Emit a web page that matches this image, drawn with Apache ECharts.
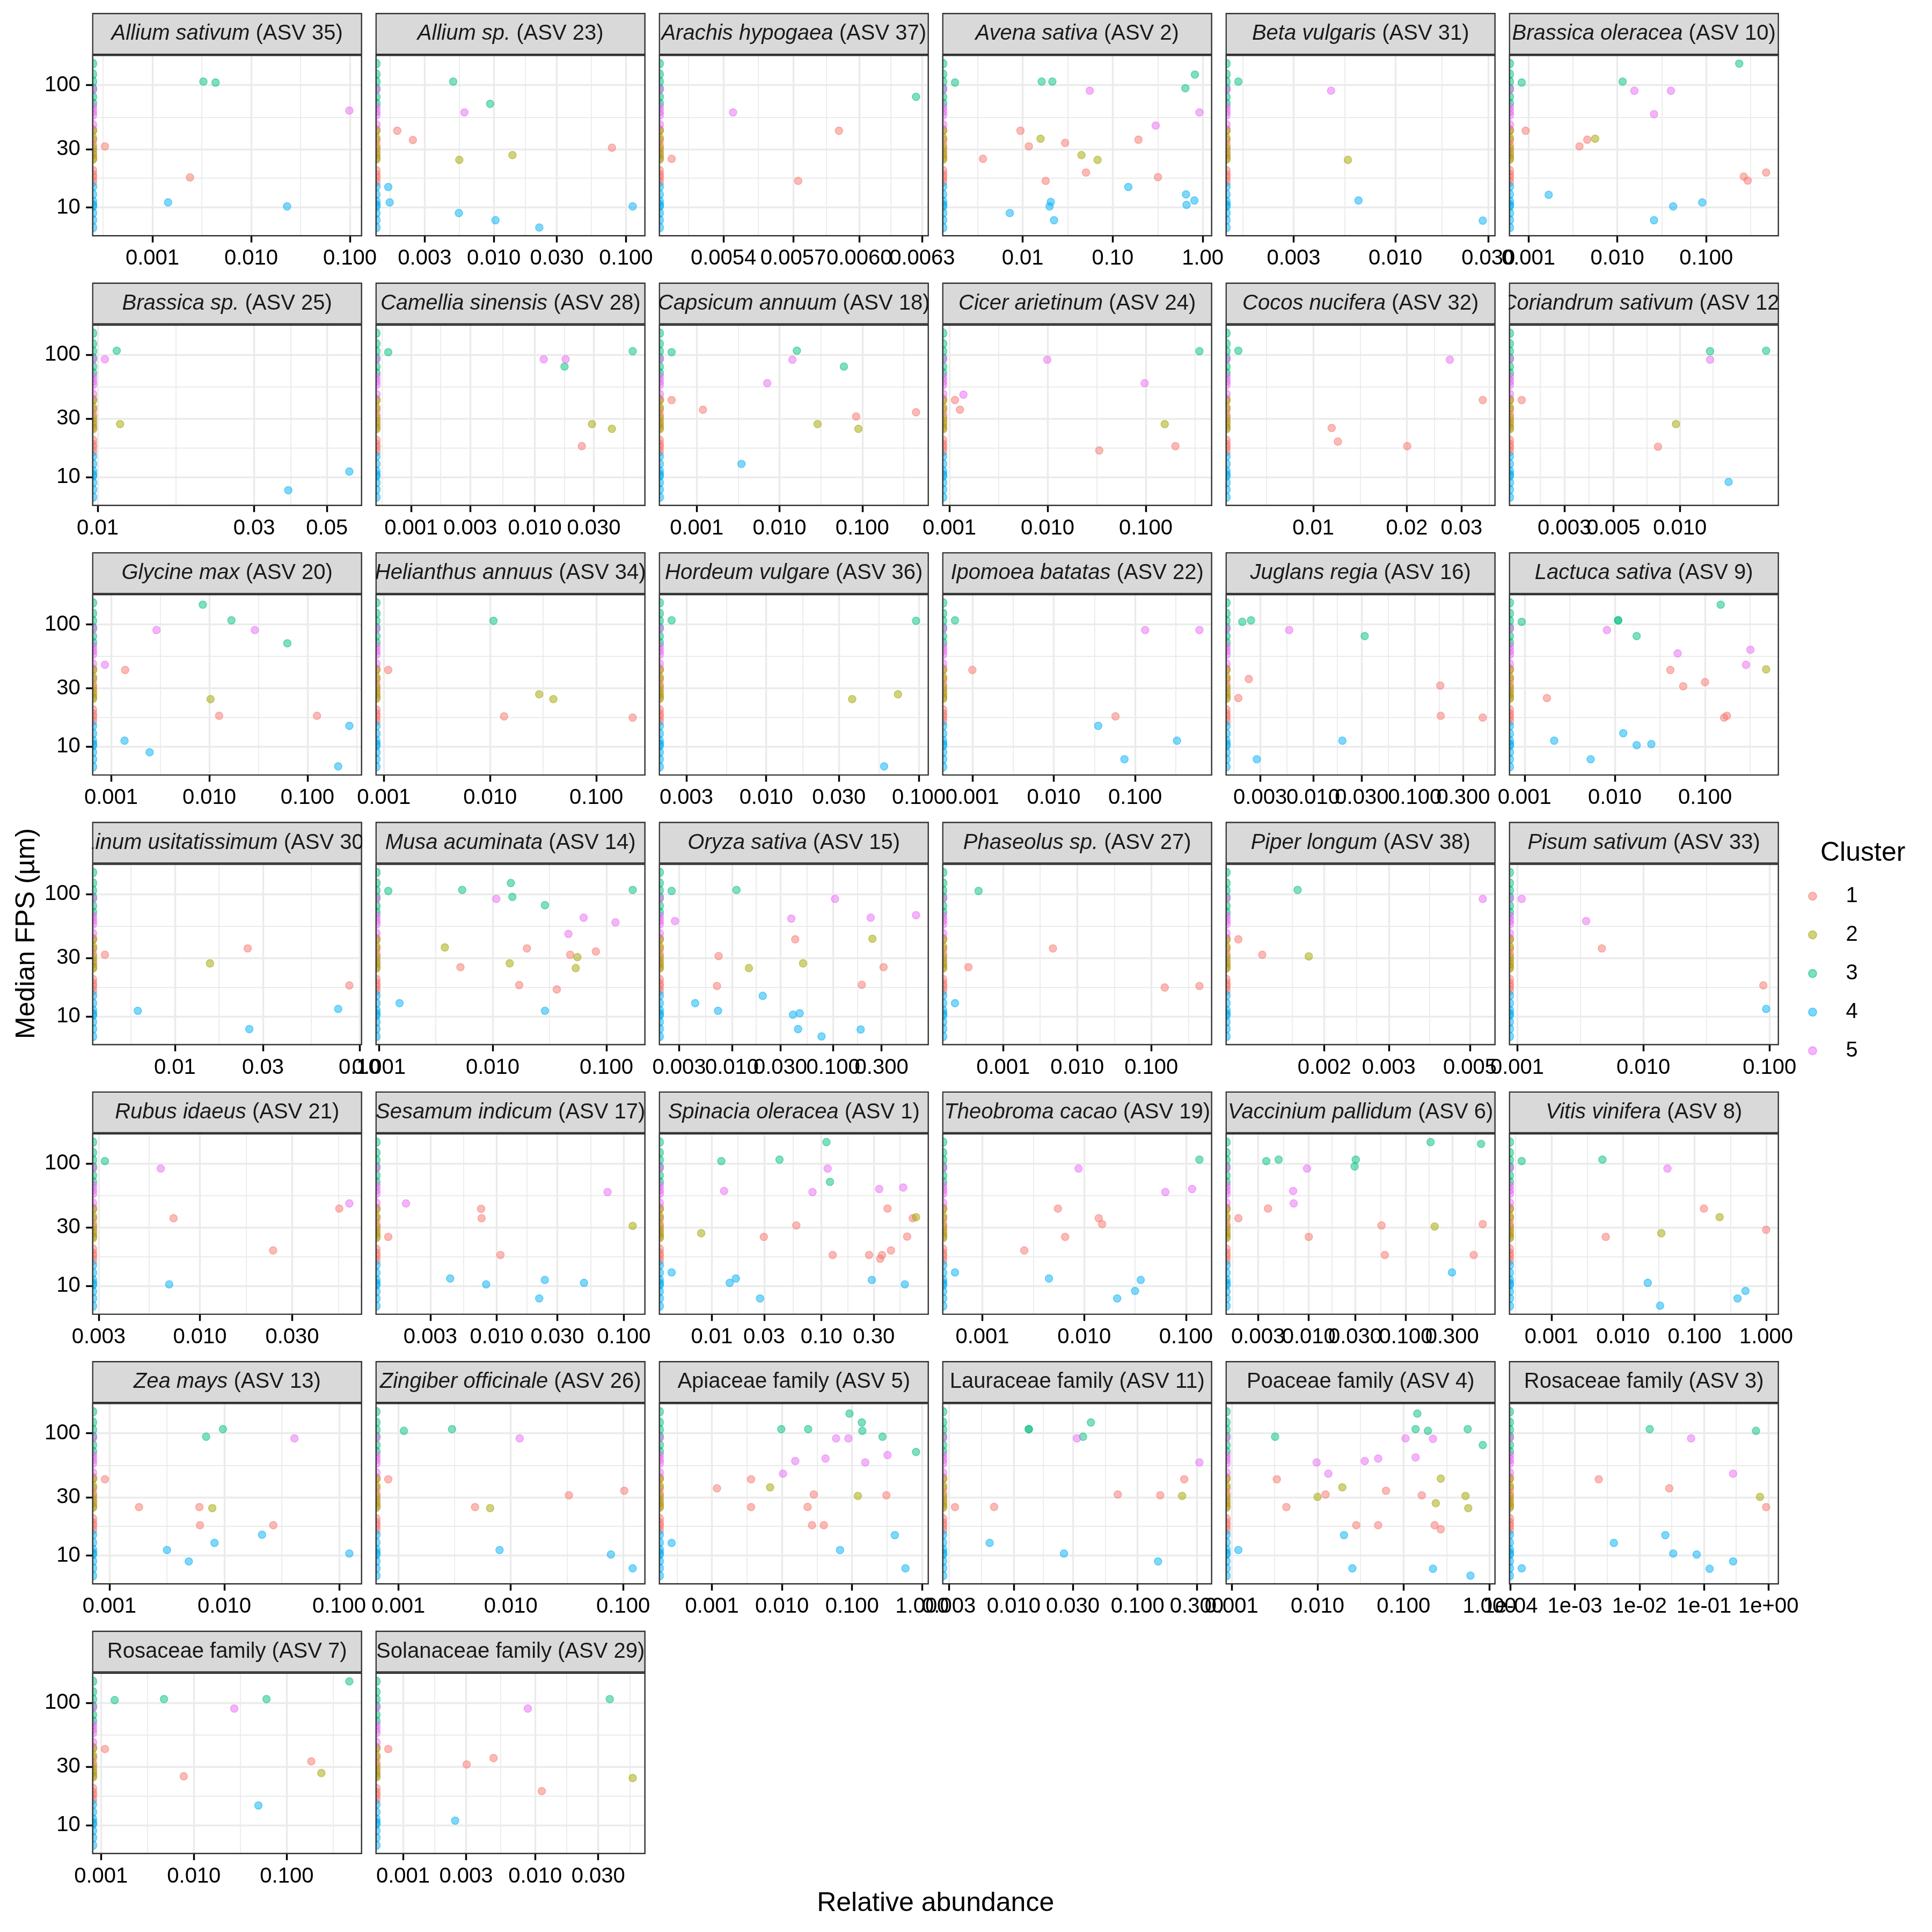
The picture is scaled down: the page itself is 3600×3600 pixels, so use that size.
<!DOCTYPE html>
<html><head><meta charset="utf-8">
<script src="https://cdn.jsdelivr.net/npm/echarts@6/dist/echarts.min.js"></script>
<style>html,body{margin:0;padding:0;background:#fff}#c{width:3600px;height:3600px}</style>
</head><body><div id="c"></div>
<script>
// ---------------- data ----------------
const CLUSTERS = ['1','2','3','4','5'];
const CLUSTER_COLORS = ['#F8766D','#A3A500','#00BF7D','#00B0F6','#E76BF3'];
const PANEL_TAXA = ['Allium sativum','Allium sp.','Arachis hypogaea','Avena sativa','Beta vulgaris','Brassica oleracea',
  'Brassica sp.','Camellia sinensis','Capsicum annuum','Cicer arietinum','Cocos nucifera','Coriandrum sativum',
  'Glycine max','Helianthus annuus','Hordeum vulgare','Ipomoea batatas','Juglans regia','Lactuca sativa',
  'Linum usitatissimum','Musa acuminata','Oryza sativa','Phaseolus sp.','Piper longum','Pisum sativum',
  'Rubus idaeus','Sesamum indicum','Spinacia oleracea','Theobroma cacao','Vaccinium pallidum','Vitis vinifera',
  'Zea mays','Zingiber officinale','Apiaceae family','Lauraceae family','Poaceae family','Rosaceae family',
  'Rosaceae family','Solanaceae family'];
const PANEL_ASV = [35,23,37,2,31,10,25,28,18,24,32,12,20,34,36,22,16,9,30,14,15,27,38,33,21,17,1,19,6,8,13,26,5,11,4,3,7,29];
const PANEL_ITALIC = PANEL_TAXA.map(t => !/family$/.test(t));
const Y_TICK_LABELS = ['10','30','100'];
// samples with zero abundance (drawn at -Inf, i.e. the left panel edge)
const EDGE_FPS = [150,123,107,94,80,71, 92,66,61,57,47.5, 42.6,35.5,32,28.5,25.5,20,18.5,17.5,16.2, 43,37,30.3,27,24.8, 14.8,12.8,11.2,10.5,10.2,9.0,7.9,6.85];
const EDGE_CLUSTER = [3,3,3,3,3,3, 5,5,5,5,5, 1,1,1,1,1,1,1,1,1, 2,2,2,2,2, 4,4,4,4,4,4,4,4];

const X01=[0.00033,0.00328,0.00436,0.0987,0.0024,0.00144,0.0231];
const Y01=[31.6,107,105,62,17.6,11,10.2];
const C01=[1,3,3,5,1,4,4];
const T01=['0.001','0.010','0.100'];
const X02=[0.00493,0.00938,0.00599,0.00186,0.00244,0.0784,0.01384,0.00548,0.00159,0.00163,0.00544,0.0103,0.0221,0.1125];
const Y02=[107,70.3,59.8,42.4,35.6,30.8,26.8,24.5,14.7,11,9.0,7.86,6.85,10.2];
const C02=[3,3,5,1,1,1,2,2,4,4,4,4,4,4];
const T02=['0.003','0.010','0.030','0.100'];
const X03=[0.005187,0.00544,0.005722,0.005906,0.00627];
const Y03=[25.0,59.8,16.5,42.4,80.2];
const C03=[1,5,1,1,3];
const T03=['0.0054','0.0057','0.0060','0.0063'];
const X04=[0.00177,0.01626,0.02133,0.818,0.641,0.0556,0.918,0.300,0.00944,0.0158,0.0296,0.0117,0.193,0.00362,0.0449,0.0679,0.0504,0.318,0.018,0.149,0.652,0.807,0.66,0.0205,0.0199,0.0072,0.0223];
const Y04=[105,107,107,122,94.3,90.1,59.8,46.7,42.4,36.5,33.7,31.6,35.8,25,26.8,24.5,19.3,17.7,16.5,14.7,12.8,11.4,10.5,11.1,10.2,9.0,7.86];
const C04=[3,3,3,3,3,5,5,5,1,2,1,1,1,1,2,2,1,1,1,4,4,4,4,4,4,4,4];
const T04=['0.01','0.10','1.00'];
const X05=[0.00156,0.00467,0.0057,0.00646,0.0281];
const Y05=[107,90.1,24.5,11.4,7.8];
const C05=[3,5,2,4,4];
const T05=['0.003','0.010','0.030'];
const X06=[0.00084,0.01148,0.2355,0.01556,0.0401,0.0259,0.00093,0.00563,0.00459,0.00375,0.265,0.293,0.473,0.00169,0.0425,0.0903,0.0259];
const Y06=[105,107,150,90,90,57.9,42.4,36.5,35.8,31.6,17.9,16.6,19.3,12.7,10.2,11,7.86];
const C06=[3,3,3,5,5,5,1,2,1,1,1,1,1,4,4,4,4];
const T06=['0.001','0.010','0.100'];
const X07=[0.01143,0.01052,0.0117,0.0381,0.0585];
const Y07=[108,91.8,27.1,7.8,11.1];
const C07=[3,5,2,4,4];
const T07=['0.01','0.03','0.05'];
const X08=[0.000652,0.0118,0.01774,0.01738,0.0619,0.029,0.042,0.024];
const Y08=[105,91.8,91.8,80.2,107,27.1,24.8,17.9];
const C08=[3,5,5,3,3,2,2,1];
const T08=['0.001','0.003','0.010','0.030'];
const X09=[0.000497,0.000497,0.001187,0.00347,0.0071,0.0143,0.0162,0.0288,0.0599,0.0843,0.0897,0.446];
const Y09=[105,42.6,35.5,12.8,58.6,91.2,108,27.1,80.2,31.3,24.8,33.9];
const C09=[3,1,1,4,5,5,3,2,3,1,2,1];
const T09=['0.001','0.010','0.100'];
const X10=[0.352,0.00993,0.0975,0.001388,0.00114,0.00128,0.156,0.2005,0.0336];
const Y10=[107,91.2,58.6,47.2,42.6,35.5,27.1,17.9,16.5];
const C10=[3,5,5,5,1,1,2,1,1];
const T10=['0.001','0.010','0.100'];
const X11=[0.00574,0.0275,0.0351,0.01146,0.012,0.02005];
const Y11=[108,91.2,42.6,25.2,19.5,17.9];
const C11=[3,5,1,1,1,1];
const T11=['0.01','0.02','0.03'];
const X12=[0.0137,0.0246,0.0137,0.00192,0.0096,0.00796,0.01663];
const Y12=[107,108,91.2,42.6,27.1,17.7,9.13];
const C12=[3,3,5,1,2,1,4];
const T12=['0.003','0.005','0.010'];
const X13=[0.00859,0.0168,0.0624,0.0029,0.0291,0.000865,0.00139,0.0103,0.0126,0.125,0.267,0.00137,0.00247,0.2056];
const Y13=[144.9,108,70,90,90,46.7,42.4,24.5,17.9,17.9,14.8,11.2,9.0,6.9];
const C13=[3,3,3,5,5,5,1,2,1,1,4,4,4,4];
const T13=['0.001','0.010','0.100'];
const X14=[0.0011,0.01076,0.029,0.0394,0.01355,0.22];
const Y14=[42.4,107,26.8,24.5,17.7,17.3];
const C14=[1,3,2,2,1,1];
const T14=['0.001','0.010','0.100'];
const X15=[0.0024,0.096,0.0366,0.0731,0.0593];
const Y15=[108,107,24.5,26.8,6.9];
const C15=[3,3,2,2,4];
const T15=['0.003','0.010','0.030','0.100'];
const X16=[0.000612,0.001,0.133,0.617,0.0574,0.0352,0.327,0.074];
const Y16=[108,42.4,90,90,17.7,14.8,11.2,7.9];
const C16=[3,1,5,5,1,4,4,4];
const T16=['0.001','0.010','0.100'];
const X17=[0.002,0.00244,0.0058,0.0321,0.00232,0.00183,0.178,0.18,0.467,0.01935,0.00278];
const Y17=[105,108,90,80.2,35.8,25,31.6,17.9,17.3,11.2,7.9];
const C17=[3,3,5,3,1,1,1,1,1,4,4];
const T17=['0.003','0.010','0.030','0.100','0.300'];
const X18=[0.00093,0.0109,0.0109,0.149,0.01746,0.00818,0.0497,0.318,0.284,0.475,0.0412,0.1,0.0573,0.00177,0.1626,0.1746,0.0124,0.00213,0.01746,0.0254,0.0054];
const Y18=[105,108,108,145,80.2,90,57.9,62,46.7,42.9,42.4,33.7,31.2,25,17.3,17.9,12.9,11.2,10.3,10.5,7.9];
const C18=[3,3,3,3,3,5,5,5,5,2,1,1,1,1,1,1,4,4,4,4,4];
const T18=['0.001','0.010','0.100'];
const X19=[0.00418,0.0248,0.0155,0.0881,0.0063,0.0767,0.0253];
const Y19=[31.9,35.9,27.1,17.9,11.1,11.5,7.86];
const C19=[1,1,2,1,4,4,4];
const T19=['0.01','0.03','0.10'];
const X20=[0.00121,0.0054,0.01445,0.0149,0.0288,0.170,0.01076,0.063,0.12,0.0463,0.0038,0.02,0.0807,0.048,0.0555,0.0141,0.0537,0.00521,0.0171,0.0366,0.00152,0.0288];
const Y20=[106,108,123,94.8,81.1,108,91.2,64.1,58.6,47.2,36.6,35.9,33.9,31.9,30.5,27.1,24.8,25.2,18,16.6,12.8,11.1];
const C20=[3,3,3,3,3,3,5,5,5,5,2,1,1,1,2,2,2,1,1,1,4,4];
const T20=['0.001','0.010','0.100'];
const X21=[0.00253,0.01107,0.00273,0.0385,0.104,0.2344,0.6577,0.0421,0.2437,0.00737,0.0503,0.01467,0.314,0.0071,0.1914,0.0201,0.00432,0.00727,0.04,0.0466,0.0449,0.1866,0.0766];
const Y21=[106,108,60.1,62.9,91.2,64.1,67.1,42.6,43.1,31.1,27.1,24.8,25.2,17.7,18.1,14.7,12.8,11.1,10.3,10.6,7.86,7.8,6.85];
const C21=[3,3,5,5,5,5,5,1,2,1,2,2,1,1,1,4,4,4,4,4,4,4,4];
const T21=['0.003','0.010','0.030','0.100','0.300'];
const X22=[0.000466,0.0047,0.00034,0.1517,0.4457,0.000224];
const Y22=[106,35.9,25.2,17.2,17.7,12.8];
const C22=[3,1,1,1,1,4];
const T22=['0.001','0.010','0.100'];
const X23=[0.00169,0.00542,0.001164,0.001353,0.001813];
const Y23=[108,91.2,42.6,31.9,30.9];
const C23=[3,5,1,1,2];
const T23=['0.002','0.003','0.005'];
const X24=[0.001086,0.00352,0.00469,0.0893,0.094];
const Y24=[91.2,60.1,35.9,17.9,11.5];
const C24=[5,5,1,1,4];
const T24=['0.001','0.010','0.100'];
const X25=[0.00323,0.00628,0.0592,0.0525,0.00731,0.0239,0.00694];
const Y25=[105,91.2,47.3,42.9,35.8,19.5,10.3];
const C25=[3,5,5,1,1,1,4];
const T25=['0.003','0.010','0.030'];
const X26=[0.00193,0.0745,0.00753,0.0076,0.0014,0.1175,0.0107,0.0043,0.00825,0.0239,0.0486,0.0216];
const Y26=[47.3,58.6,42.7,35.8,25.2,31,17.9,11.5,10.3,11.2,10.6,7.9];
const C26=[5,5,1,1,1,2,1,4,4,4,4,4];
const T26=['0.003','0.010','0.030','0.100'];
const X27=[0.111,0.0122,0.0414,0.1194,0.1137,0.01294,0.0828,0.336,0.556,0.4,0.679,0.728,0.0589,0.008,0.0298,0.604,0.43,0.1265,0.2716,0.356,0.343,0.0043,0.01656,0.01455,0.2877,0.575,0.0275];
const Y27=[150,105,108,71,91.2,59.8,58.6,62,63.8,42.9,35.8,36.5,31.2,27,25.2,25.3,19.5,17.9,17.9,17.9,16.7,12.9,11.5,10.6,11.2,10.3,7.9];
const C27=[3,3,3,3,5,5,5,5,5,1,1,2,1,2,1,1,1,1,1,1,1,4,4,4,4,4,4];
const T27=['0.01','0.03','0.10','0.30'];
const X28=[0.1355,0.00881,0.0627,0.1148,0.00552,0.0139,0.015,0.0065,0.00258,0.000538,0.00451,0.0359,0.0316,0.0211];
const Y28=[108,91.2,58.6,62,42.9,35.8,32,25.2,19.5,12.9,11.5,11.2,9.1,7.9];
const C28=[3,5,5,5,1,1,1,1,1,4,4,4,4,4];
const T28=['0.001','0.010','0.100'];
const X29=[0.18,0.596,0.00365,0.00489,0.0305,0.0297,0.0096,0.0069,0.00699,0.0038,0.00188,0.0561,0.198,0.621,0.01,0.0608,0.501,0.299];
const Y29=[150,145,105,108,108,94.8,91.2,59.8,47.3,42.9,35.8,31.2,30.6,32,25.2,17.9,17.9,12.9];
const C29=[3,3,3,3,3,3,5,5,5,1,1,1,2,1,1,1,1,4];
const T29=['0.003','0.010','0.030','0.100','0.300'];
const X30=[0.000385,0.00516,0.0418,0.135,0.2236,0.998,0.0343,0.00575,0.0222,0.513,0.398,0.033];
const Y30=[105,108,91.2,42.9,36.5,28.8,27,25.2,10.6,9.1,7.9,6.9];
const C30=[3,3,5,1,2,1,2,1,4,4,4,4];
const T30=['0.001','0.010','0.100','1.000'];
const X31=[0.000914,0.00973,0.00695,0.0408,0.00181,0.00607,0.00786,0.00614,0.0267,0.0213,0.00822,0.00317,0.00491,0.1225];
const Y31=[42,108,93.7,90.8,24.9,24.9,24.4,17.7,17.7,14.8,12.7,11.1,8.95,10.4];
const C31=[1,3,3,5,1,1,2,1,1,4,4,4,4,4];
const T31=['0.001','0.010','0.100'];
const X32=[0.00112,0.003,0.012,0.000813,0.0329,0.1023,0.00481,0.00655,0.00795,0.0778,0.1216];
const Y32=[104.7,108,90.8,42,31.1,33.9,24.9,24.4,11.1,10.2,7.86];
const C32=[3,3,5,1,1,1,1,2,4,4,4];
const T32=['0.001','0.010','0.100'];
const X33=[0.00118,0.000266,0.00977,0.0236,0.0918,0.1376,0.140,0.2717,0.818,0.0591,0.0885,0.3206,0.0417,0.01545,0.154,0.01033,0.00362,0.00676,0.0284,0.121,0.309,0.00362,0.0232,0.0268,0.0395,0.407,0.0673,0.577];
const Y33=[35.5,12.7,108,108,145,122.5,104.7,93.7,70.3,90.8,90.8,66.4,62.1,59.3,57.8,46.7,42,36.1,31.6,30.7,31.1,24.9,25.0,17.7,17.7,14.7,11.1,7.86];
const C33=[1,4,3,3,3,3,3,3,3,5,5,5,5,5,5,5,1,2,1,2,1,1,1,1,1,4,4,4];
const T33=['0.001','0.010','0.100','1.000'];
const X34=[0.00336,0.00695,0.0064,0.01324,0.01324,0.02546,0.0324,0.0363,0.042,0.0692,0.1525,0.1463,0.238,0.2286,0.3155];
const Y34=[24.9,25,12.7,108,108,10.4,90.8,93.7,122.5,31.6,31.1,8.95,42,30.7,57.8];
const C34=[1,1,4,3,3,4,5,3,3,1,1,4,1,2,5];
const T34=['0.003','0.010','0.030','0.100','0.300'];
const X35=[0.0012,0.00321,0.00336,0.00434,0.00976,0.01,0.0124,0.01335,0.0194,0.0203,0.0254,0.0282,0.0354,0.0507,0.0507,0.0625,0.1054,0.138,0.138,0.1446,0.163,0.192,0.22,0.23,0.22,0.237,0.271,0.271,0.557,0.525,0.565,0.6,0.834];
const Y35=[11.1,93.7,42,24.9,57.8,30.2,31.6,46.7,36.1,14.7,7.86,17.7,59.3,62.1,17.7,33.9,90.8,108,63.4,145,31.1,104.7,90,17.7,7.8,26.8,42.6,16.4,108,30.7,24.4,6.85,80.1];
const C35=[4,3,1,1,5,2,1,5,2,4,4,1,5,5,1,1,5,3,5,3,1,3,5,1,4,2,2,1,3,2,2,4,3];
const T35=['0.001','0.010','0.100','1.000'];
const X36=[0.00015,0.00234,0.00402,0.01445,0.0252,0.029,0.0334,0.0633,0.0772,0.1224,0.283,0.283,0.641,0.738,0.92];
const Y36=[7.86,42,12.7,108,14.7,35.5,10.4,90.8,10.2,7.8,46.7,8.95,104.7,30.2,24.9];
const C36=[4,1,4,3,4,1,4,5,4,4,5,4,3,2,1];
const T36=['1e-04','1e-03','1e-02','1e-01','1e+00'];
const X37=[0.0014,0.00476,0.0605,0.472,0.0272,0.0011,0.1836,0.2357,0.00778,0.0495];
const Y37=[105.4,107.4,107.4,150,89.9,42,33.3,26.7,25.1,14.5];
const C37=[3,3,3,3,5,1,1,2,1,4];
const T37=['0.001','0.010','0.100'];
const X38=[0.000773,0.00303,0.00484,0.00248,0.0088,0.01122,0.0367,0.0547];
const Y38=[42,31.4,35.4,10.9,89.9,19.0,107.4,24.3];
const C38=[1,1,1,4,5,1,3,2];
const T38=['0.001','0.003','0.010','0.030'];

const PANEL_X=[X01,X02,X03,X04,X05,X06,X07,X08,X09,X10,X11,X12,X13,X14,X15,X16,X17,X18,X19,X20,X21,X22,X23,X24,X25,X26,X27,X28,X29,X30,X31,X32,X33,X34,X35,X36,X37,X38];
const PANEL_Y=[Y01,Y02,Y03,Y04,Y05,Y06,Y07,Y08,Y09,Y10,Y11,Y12,Y13,Y14,Y15,Y16,Y17,Y18,Y19,Y20,Y21,Y22,Y23,Y24,Y25,Y26,Y27,Y28,Y29,Y30,Y31,Y32,Y33,Y34,Y35,Y36,Y37,Y38];
const PANEL_C=[C01,C02,C03,C04,C05,C06,C07,C08,C09,C10,C11,C12,C13,C14,C15,C16,C17,C18,C19,C20,C21,C22,C23,C24,C25,C26,C27,C28,C29,C30,C31,C32,C33,C34,C35,C36,C37,C38];
const PANEL_T=[T01,T02,T03,T04,T05,T06,T07,T08,T09,T10,T11,T12,T13,T14,T15,T16,T17,T18,T19,T20,T21,T22,T23,T24,T25,T26,T27,T28,T29,T30,T31,T32,T33,T34,T35,T36,T37,T38];

// ---------------- layout / style ----------------
const FONT = '"Liberation Sans", Arial, Helvetica, sans-serif';
const NCOL = 6, COL_LEFT = 172.7, COL_STEP = 528, PW = 501;
const ROW_TOP = 103.3, ROW_STEP = 502.4, PH = 336, STRIP_H = 78;
const BORDER = '#333333', BORDER_W = 2.4;
const GRID_COL = '#EBEBEB', MAJOR_W = 3.4, MINOR_W = 1.8;
const HALF = 'path://M0,0C0.552,0,1,0.448,1,1C1,1.552,0.552,2,0,2Z';
const LOG = Math.log10;

function expandLog(vals) {
  const l = vals.map(LOG);
  const lo = Math.min(...l), hi = Math.max(...l), r = hi - lo;
  return [lo - 0.05 * r, hi + 0.05 * r];
}
function minorBreaks(b, lo, hi) {
  b = b.slice();
  if (b.length >= 2) {
    if (lo < b[0]) b.unshift(b[0] - (b[1] - b[0]));
    const n = b.length;
    if (hi > b[n - 1]) b.push(b[n - 1] + (b[n - 1] - b[n - 2]));
  }
  const out = [];
  for (let i = 0; i < b.length - 1; i++) out.push((b[i] + b[i + 1]) / 2);
  return out.filter(v => v > lo && v < hi);
}

const yAll = PANEL_Y.flat().concat(EDGE_FPS);
const [yLo, yHi] = expandLog(yAll);
const yMin = Math.pow(10, yLo), yMax = Math.pow(10, yHi);
const yTicks = Y_TICK_LABELS.map(Number);
const yMinor = minorBreaks(yTicks.map(LOG), yLo, yHi).map(v => Math.pow(10, v));

const grids = [], xAxes = [], yAxes = [], series = [], gfx = [];
const nRows = Math.ceil(PANEL_TAXA.length / NCOL);
const labelStyle = { margin: 23, fontSize: 40, color: '#000', fontFamily: FONT, hideOverlap: false, interval: 0 };

PANEL_TAXA.forEach((taxon, i) => {
  const col = i % NCOL, row = Math.floor(i / NCOL);
  const left = COL_LEFT + col * COL_STEP, top = ROW_TOP + row * ROW_STEP;
  grids.push({ left, top, width: PW, height: PH, show: false, containLabel: false, outerBoundsMode: 'none' });

  const xs = PANEL_X[i], ys = PANEL_Y[i], cs = PANEL_C[i], tl = PANEL_T[i];
  const [lo, hi] = expandLog(xs);
  const xmin = Math.pow(10, lo), xmax = Math.pow(10, hi);
  const pairs = tl.map(s => [Number(s), s]).filter(p => LOG(p[0]) >= lo - 1e-9 && LOG(p[0]) <= hi + 1e-9);
  const tv = pairs.map(p => p[0]);
  const tvEven = tv.filter((v, j) => j % 2 === 0), tvOdd = tv.filter((v, j) => j % 2 === 1);
  const xMinor = minorBreaks(tv.map(LOG), lo, hi).map(v => Math.pow(10, v));
  const fmtX = v => { for (const p of pairs) if (Math.abs(LOG(v) - LOG(p[0])) < 1e-6) return p[1]; return ''; };
  const fmtY = v => { for (let j = 0; j < yTicks.length; j++) if (Math.abs(LOG(v) - LOG(yTicks[j])) < 1e-6) return Y_TICK_LABELS[j]; return ''; };

  // main x axis (ticks + every other label) and a twin axis on the same scale carrying the remaining labels,
  // so that labels overlapping like in the original are all kept
  const xMainIndex = xAxes.length;
  const baseX = {
    type: 'log', logBase: 10, gridIndex: i, min: xmin, max: xmax, position: 'bottom', offset: 0,
    axisLine: { show: false, onZero: false }, splitLine: { show: false },
    minorTick: { show: false }, minorSplitLine: { show: false }
  };
  xAxes.push(Object.assign({}, baseX, {
    axisTick: { show: true, inside: false, interval: 0, length: 12.5, lineStyle: { color: '#000', width: 3.4 }, customValues: tv },
    axisLabel: Object.assign({ show: true, customValues: tvEven, formatter: fmtX, showMinLabel: true, showMaxLabel: true }, labelStyle)
  }));
  xAxes.push(Object.assign({}, baseX, {
    axisTick: { show: false },
    axisLabel: Object.assign({ show: tvOdd.length > 0, customValues: tvOdd.length ? tvOdd : [tv[0]], formatter: fmtX, showMinLabel: true, showMaxLabel: true }, labelStyle)
  }));
  const showY = col === 0;
  yAxes.push({
    type: 'log', logBase: 10, gridIndex: i, min: yMin, max: yMax,
    axisLine: { show: false, onZero: false }, splitLine: { show: false },
    minorTick: { show: false }, minorSplitLine: { show: false },
    axisTick: { show: showY, inside: false, interval: 0, length: 12.5, lineStyle: { color: '#000', width: 3.4 }, customValues: yTicks },
    axisLabel: Object.assign({ show: showY, customValues: yTicks, formatter: fmtY }, labelStyle)
  });

  // grid lines (minor then major), through the axes' own scales
  const ml = [];
  xMinor.forEach(v => ml.push({ xAxis: v, lineStyle: { color: GRID_COL, width: MINOR_W, type: 'solid' } }));
  yMinor.forEach(v => ml.push({ yAxis: v, lineStyle: { color: GRID_COL, width: MINOR_W, type: 'solid' } }));
  tv.forEach(v => ml.push({ xAxis: v, lineStyle: { color: GRID_COL, width: MAJOR_W, type: 'solid' } }));
  yTicks.forEach(v => ml.push({ yAxis: v, lineStyle: { color: GRID_COL, width: MAJOR_W, type: 'solid' } }));
  series.push({
    type: 'scatter', name: 'gridlines', xAxisIndex: xMainIndex, yAxisIndex: i, data: [], silent: true, z: 1,
    markLine: { silent: true, symbol: ['none', 'none'], precision: 20, label: { show: false }, z: 1, animation: false,
      emphasis: { disabled: true }, data: ml }
  });

  for (let k = 0; k < CLUSTERS.length; k++) {
    const data = [];
    EDGE_FPS.forEach((y, j) => {
      if (EDGE_CLUSTER[j] === k + 1) data.push({ value: [xmin, y], symbol: HALF, symbolSize: [8, 16], symbolOffset: [4, 0] });
    });
    xs.forEach((x, j) => { if (cs[j] === k + 1) data.push([x, ys[j]]); });
    const c = CLUSTER_COLORS[k];
    series.push({
      type: 'scatter', name: CLUSTERS[k], xAxisIndex: xMainIndex, yAxisIndex: i, data, symbol: 'circle', symbolSize: 14,
      clip: false, silent: true, z: 2, emphasis: { disabled: true },
      itemStyle: { color: c, opacity: 0.5, borderColor: c, borderWidth: 1.6 }
    });
  }

  // strip
  gfx.push({ type: 'rect', z: 10, silent: true,
    shape: { x: left, y: top - STRIP_H, width: PW, height: STRIP_H - 2.2 },
    style: { fill: '#D9D9D9', stroke: BORDER, lineWidth: BORDER_W } });
  const txt = PANEL_ITALIC[i] ? `{i|${taxon}} (ASV ${PANEL_ASV[i]})` : `${taxon} (ASV ${PANEL_ASV[i]})`;
  gfx.push({ type: 'text', z: 11, silent: true, x: left + PW / 2, y: top - STRIP_H / 2 - 1,
    style: { text: txt, fontSize: 40, fontFamily: FONT, fill: '#1A1A1A', align: 'center', verticalAlign: 'middle',
      rich: { i: { fontStyle: 'italic', fontSize: 40, fontFamily: FONT, fill: '#1A1A1A' } } } });
  // panel border
  gfx.push({ type: 'rect', z: 100, silent: true,
    shape: { x: left, y: top, width: PW, height: PH },
    style: { fill: 'none', stroke: BORDER, lineWidth: BORDER_W } });
});

// masks that clip strip labels to their strips
for (let r = 0; r < nRows; r++) {
  const top = ROW_TOP + r * ROW_STEP;
  const nc = Math.min(NCOL, PANEL_TAXA.length - r * NCOL);
  const y0 = top - STRIP_H - 4, h = STRIP_H + 2;
  const hw = BORDER_W / 2 + 0.2;
  gfx.push({ type: 'rect', z: 12, silent: true, shape: { x: 0, y: y0, width: COL_LEFT - hw, height: h }, style: { fill: '#fff' } });
  for (let c = 0; c < nc; c++) {
    const right = COL_LEFT + c * COL_STEP + PW + hw;
    const w = (c < nc - 1) ? (COL_STEP - PW - 2 * hw) : 60;
    gfx.push({ type: 'rect', z: 12, silent: true, shape: { x: right, y: y0, width: w, height: h }, style: { fill: '#fff' } });
  }
}

const plotLeft = COL_LEFT, plotRight = COL_LEFT + (NCOL - 1) * COL_STEP + PW;
const plotTop = ROW_TOP - STRIP_H, plotBottom = ROW_TOP + (nRows - 1) * ROW_STEP + PH;
gfx.push({ type: 'text', z: 200, silent: true, x: 50, y: (plotTop + plotBottom) / 2, rotation: Math.PI / 2,
  style: { text: 'Median FPS (µm)', fontSize: 50, fontFamily: FONT, fill: '#000', align: 'center', verticalAlign: 'middle' } });
gfx.push({ type: 'text', z: 200, silent: true, x: (plotLeft + plotRight) / 2, y: 3547,
  style: { text: 'Relative abundance', fontSize: 50, fontFamily: FONT, fill: '#000', align: 'center', verticalAlign: 'middle' } });
gfx.push({ type: 'text', z: 200, silent: true, x: 3392, y: 1590,
  style: { text: 'Cluster', fontSize: 50, fontFamily: FONT, fill: '#000', align: 'left', verticalAlign: 'middle' } });

const option = {
  animation: false,
  backgroundColor: '#ffffff',
  textStyle: { fontFamily: FONT },
  grid: grids, xAxis: xAxes, yAxis: yAxes, series,
  legend: {
    orient: 'vertical', left: 3369, top: 1650, padding: 0, z: 200,
    itemWidth: 114, itemHeight: 15, itemGap: 32, selectedMode: false,
    data: CLUSTERS,
    textStyle: { fontSize: 40, lineHeight: 40, color: '#000', fontFamily: FONT }
  },
  graphic: { elements: gfx }
};

const chart = echarts.init(document.getElementById('c'), null, { renderer: 'canvas', width: 3600, height: 3600 });
chart.setOption(option);
</script></body></html>
